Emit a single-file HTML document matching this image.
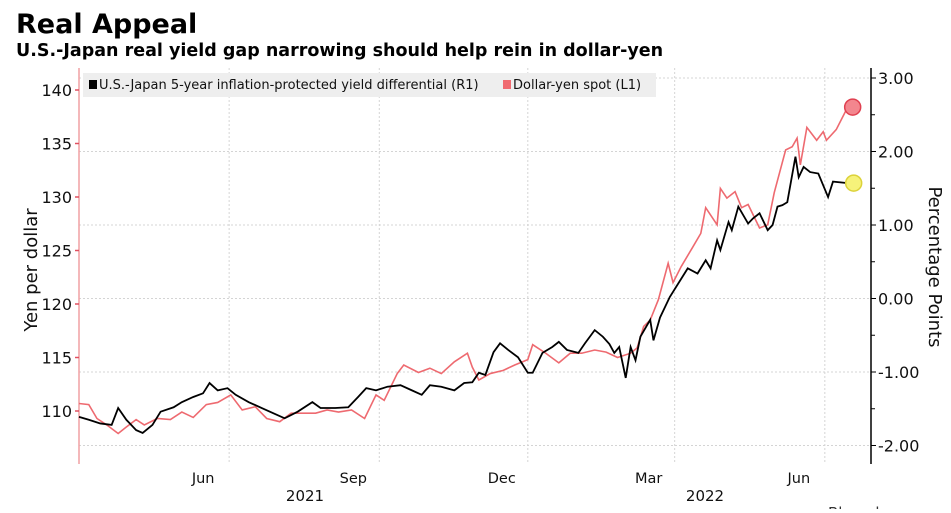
<!DOCTYPE html>
<html><head><meta charset="utf-8"><style>
body{margin:0;background:#fff;width:951px;height:509px;overflow:hidden;font-family:"DejaVu Sans","Liberation Sans",sans-serif}
svg text{font-family:"DejaVu Sans","Liberation Sans",sans-serif}
</style></head><body>
<svg id="chart" width="951" height="509" xmlns="http://www.w3.org/2000/svg">
<text x="16" y="33" font-size="27" font-weight="bold" fill="#000">Real Appeal</text>
<text x="16" y="56" font-size="17.5" font-weight="bold" fill="#000">U.S.-Japan real yield gap narrowing should help rein in dollar-yen</text>
<g id="grid"></g>
<rect x="83" y="73" width="573" height="24" fill="#eeeeee"/>
<rect x="89" y="80" width="8" height="9" fill="#000"/>
<text x="99" y="89" font-size="13" fill="#111">U.S.-Japan 5-year inflation-protected yield differential (R1)</text>
<rect x="503" y="80" width="8" height="9" fill="#f06a70"/>
<text x="513" y="89" font-size="13" fill="#111">Dollar-yen spot (L1)</text>
<g id="axes"></g>
<g id="series"></g>
<text transform="translate(37,270) rotate(-90)" text-anchor="middle" font-size="18" fill="#111">Yen per dollar</text>
<text transform="translate(929,267) rotate(90)" text-anchor="middle" font-size="18" fill="#111">Percentage Points</text>
<text x="305" y="501" text-anchor="middle" font-size="15" fill="#111">2021</text>
<text x="705" y="501" text-anchor="middle" font-size="15" fill="#111">2022</text>
<text x="828" y="518" font-size="15" fill="#333">Bloomberg</text>
</svg>
<script>
// Data (days since 2021-03-01)
const yenDays=[0,6,11,17,24,29,35,40,48,56,63,70,78,85,93,100,108,115,123,130,137,145,152,159,167,175,182,187,195,199,208,215,222,230,238,241,245,252,260,267,275,278,286,294,301,308,316,323,330,338,342,346,350,355,361,364,369,376,381,384,391,393,397,402,406,410,417,422,426,433,437,440,442,446,452,456,458,464,468,471];
const yenValues=[110.7,110.6,109.3,108.7,107.9,108.5,109.2,108.7,109.3,109.2,109.9,109.4,110.6,110.8,111.5,110.1,110.4,109.3,109.0,109.8,109.8,109.8,110.1,109.9,110.1,109.3,111.5,111.0,113.5,114.3,113.6,114.0,113.5,114.6,115.4,114.1,112.9,113.5,113.8,114.3,114.8,116.2,115.4,114.5,115.4,115.4,115.7,115.5,115.0,115.4,115.9,117.9,118.5,120.4,123.8,122.0,123.5,125.3,126.6,129.0,127.4,130.8,129.9,130.5,129.0,129.3,127.1,127.4,130.4,134.4,134.7,135.5,133.0,136.5,135.3,136.1,135.3,136.3,137.5,138.4];
const gapDays=[0,6,13,20,24,29,35,39,45,50,58,63,70,76,80,85,91,96,104,112,119,126,134,143,148,157,165,171,176,182,189,197,204,210,215,222,230,236,241,245,249,254,258,263,269,275,278,284,290,294,299,306,310,316,321,325,328,331,335,338,341,344,350,352,356,362,373,379,384,387,391,393,398,400,404,410,413,417,422,425,428,431,434,439,441,444,448,453,459,462,471];
const gapValues=[-1.61,-1.65,-1.70,-1.72,-1.49,-1.65,-1.79,-1.83,-1.72,-1.54,-1.48,-1.41,-1.34,-1.29,-1.15,-1.25,-1.22,-1.31,-1.41,-1.49,-1.56,-1.63,-1.54,-1.41,-1.49,-1.49,-1.48,-1.34,-1.22,-1.25,-1.20,-1.18,-1.25,-1.31,-1.18,-1.20,-1.25,-1.15,-1.14,-1.01,-1.04,-0.73,-0.61,-0.70,-0.80,-1.01,-1.01,-0.74,-0.66,-0.59,-0.70,-0.74,-0.61,-0.43,-0.52,-0.62,-0.74,-0.66,-1.08,-0.66,-0.84,-0.52,-0.29,-0.57,-0.26,0.02,0.41,0.34,0.52,0.41,0.79,0.66,1.04,0.93,1.25,1.02,1.09,1.16,0.93,1.00,1.25,1.27,1.31,1.93,1.65,1.79,1.72,1.70,1.38,1.59,1.57];
const leftTicks=[110,115,120,125,130,135,140];
const rightTicks=[-2,-1,0,1,2,3];
const monthLabels=["Jun","Sep","Dec","Mar","Jun"];
const monthDays=[92,184,275,365,457];

const NS="http://www.w3.org/2000/svg";
const X0=79,X1=871,PX=1.632;
const x=d=>X0+d*PX;
const yL=v=>411-(v-110)*10.7;
const yR=v=>298.5-v*73.5;
function mk(tag,attrs,parent){const e=document.createElementNS(NS,tag);for(const k in attrs)e.setAttribute(k,attrs[k]);parent.appendChild(e);return e;}
const grid=document.getElementById('grid'),axes=document.getElementById('axes'),series=document.getElementById('series');
rightTicks.forEach((t,i)=>{
  const g=mk('line',{x1:X0,x2:X1,y1:yR(t),y2:yR(t),stroke:'#d4d4d4','stroke-dasharray':'2,2'},grid);
  
  
  const tk=mk('line',{x1:X1,x2:X1+5,y1:yR(t),y2:yR(t),stroke:'#000'},axes);
  
  
  if(i<rightTicks.length-1){
    const tm=mk('line',{x1:X1,x2:X1+4,y1:yR(t+0.5),y2:yR(t+0.5),stroke:'#000'},axes);
    
    
  }
  const tx=mk('text',{x:X1+7,y:yR(t)+6,'font-size':16,fill:'#111'},axes);
  tx.textContent=t.toFixed(2);
  
  
});
monthDays.forEach((d,i)=>{
  const g=mk('line',{x1:x(d),x2:x(d),y1:68,y2:464,stroke:'#d4d4d4','stroke-dasharray':'2,2'},grid);
  
  
  const tx=mk('text',{x:x(d)-26,y:483,'font-size':14.5,'text-anchor':'middle',fill:'#111'},axes);
  tx.textContent=monthLabels[i];
  
  
});
const la=mk('line',{x1:X0,x2:X0,y1:68,y2:464,stroke:'#f0a0a4','stroke-width':1.5},axes);


const ra=mk('line',{x1:X1,x2:X1,y1:68,y2:464,stroke:'#000','stroke-width':1.5},axes);


leftTicks.forEach(t=>{
  const tk=mk('line',{x1:X0-4,x2:X0,y1:yL(t),y2:yL(t),stroke:'#e05060','stroke-width':1.5},axes);
  
  
  const tx=mk('text',{x:X0-7,y:yL(t)+6,'font-size':16,'text-anchor':'end',fill:'#111'},axes);
  tx.textContent=t;
  
  
});
const yenPath=mk('polyline',{points:yenDays.map((d,i)=>x(d)+','+yL(yenValues[i])).join(' '),fill:'none',stroke:'#ee6a70','stroke-width':1.6},series);


const gapPath=mk('polyline',{points:gapDays.map((d,i)=>x(d)+','+yR(gapValues[i])).join(' '),fill:'none',stroke:'#000','stroke-width':1.8},series);


const ly=yenDays.length-1,lg=gapDays.length-1;
const c1=mk('circle',{cx:x(yenDays[ly])+5,cy:yL(yenValues[ly]),r:8,fill:'#f3868e',stroke:'#e04050','stroke-width':1.5},series);


const c2=mk('circle',{cx:x(gapDays[lg])+6,cy:yR(gapValues[lg]),r:8,fill:'#f6f27a',stroke:'#dcd23a','stroke-width':1.5},series);


</script>
</body></html>
